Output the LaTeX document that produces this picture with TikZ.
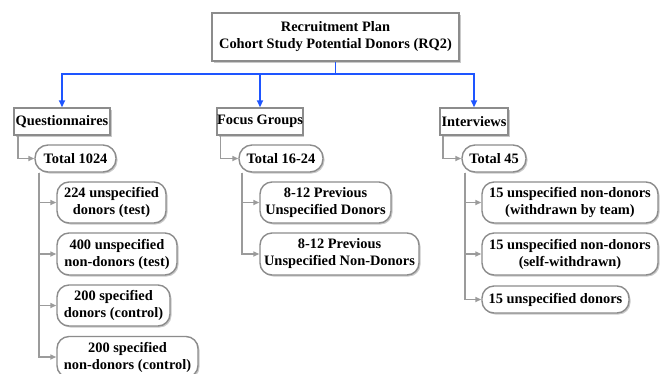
\documentclass[tikz,border=0pt]{standalone}
\usepackage{fontspec}
\setmainfont{Liberation Serif}
\usetikzlibrary{arrows.meta,shadows,calc}
\definecolor{boxgray}{RGB}{140,140,140}
\definecolor{linegray}{RGB}{155,155,155}
\definecolor{busblue}{RGB}{30,85,255}
\tikzset{
  base/.style={draw=boxgray, line width=1.4pt, fill=white, align=center,
    font=\bfseries\fontsize{14.4}{17}\selectfont, inner sep=0pt,
    drop shadow={shadow xshift=1.5pt, shadow yshift=-1.5pt, fill=black!35, opacity=0.6}},
  titlebox/.style={base, line width=2.2pt},
  headbox/.style={base},
  roundbox/.style={base, rounded corners=12pt},
  pillbox/.style={base, rounded corners=13pt},
  busline/.style={draw=busblue, line width=1.7pt, -{Triangle[length=7pt,width=6pt]}},
  treeline/.style={draw=linegray, line width=1.8pt, -{Triangle[length=6pt,width=5pt]}},
}
\begin{document}
\begin{tikzpicture}[x=1pt,y=-1pt]
\useasboundingbox (0,0) rectangle (668,373);
\clip (0,0) rectangle (668,373);
\fill[white] (0,0) rectangle (668,373);

\node[titlebox, minimum width=247pt, minimum height=48pt] (title) at (335.5,37)
  {Recruitment Plan\\Cohort Study Potential Donors (RQ2)};

\node[headbox, minimum width=96pt, minimum height=27pt] (q) at (62,121.5) {Questionnaires};
\node[headbox, minimum width=84pt, minimum height=27pt] (f) at (260,121.5) {Focus Groups};
\node[headbox, minimum width=68pt, minimum height=27pt] (i) at (474,121.5) {Interviews};

\node[pillbox, minimum width=81pt, minimum height=27pt] (tq) at (75.5,158.5) {Total 1024};
\node[pillbox, minimum width=84pt, minimum height=27pt] (tf) at (281,158.5) {Total 16-24};
\node[pillbox, minimum width=64pt, minimum height=27pt] (ti) at (494,158.5) {Total 45};

\node[roundbox, minimum width=109pt, minimum height=41pt] (q1) at (111.5,202.5) {224 unspecified\\donors (test)};
\node[roundbox, minimum width=120pt, minimum height=42pt] (q2) at (117,254) {400 unspecified\\non-donors (test)};
\node[roundbox, minimum width=113pt, minimum height=41pt] (q3) at (113.5,305.5) {200 specified\\donors (control)};
\node[roundbox, minimum width=141pt, minimum height=41pt] (q4) at (127.5,357) {200 specified\\non-donors (control)};

\node[roundbox, minimum width=131pt, minimum height=41pt] (f1) at (325.5,202.5) {8-12 Previous\\Unspecified Donors};
\node[roundbox, minimum width=159pt, minimum height=42pt] (f2) at (339.5,254) {8-12 Previous\\Unspecified Non-Donors};

\node[roundbox, minimum width=176pt, minimum height=41pt] (i1) at (570,202.5) {15 unspecified non-donors\\(withdrawn by team)};
\node[roundbox, minimum width=176pt, minimum height=42pt] (i2) at (570,254) {15 unspecified non-donors\\(self-withdrawn)};
\node[roundbox, minimum width=147pt, minimum height=27pt] (i3) at (555.5,299.5) {15 unspecified donors};

% blue bus
\coordinate (bus) at (335.5,74);
\draw[busline] (title.south) -- (bus) -| (q.north);
\draw[busline] (bus) -| (f.north);
\draw[busline] (bus) -| (i.north);

% gray tree connectors
\draw[treeline] ($(q.south west)+(5,0)$) |- (tq.west);
\draw[treeline] ($(f.south west)+(4,0)$) |- (tf.west);
\draw[treeline] ($(i.south west)+(4,0)$) |- (ti.west);

\foreach \c in {q1,q2,q3,q4}
  \draw[treeline] ($(tq.south west)+(5,0)$) |- (\c.west);
\foreach \c in {f1,f2}
  \draw[treeline] ($(tf.south west)+(4,0)$) |- (\c.west);
\foreach \c in {i1,i2,i3}
  \draw[treeline] ($(ti.south west)+(4,0)$) |- (\c.west);
\end{tikzpicture}
\end{document}
